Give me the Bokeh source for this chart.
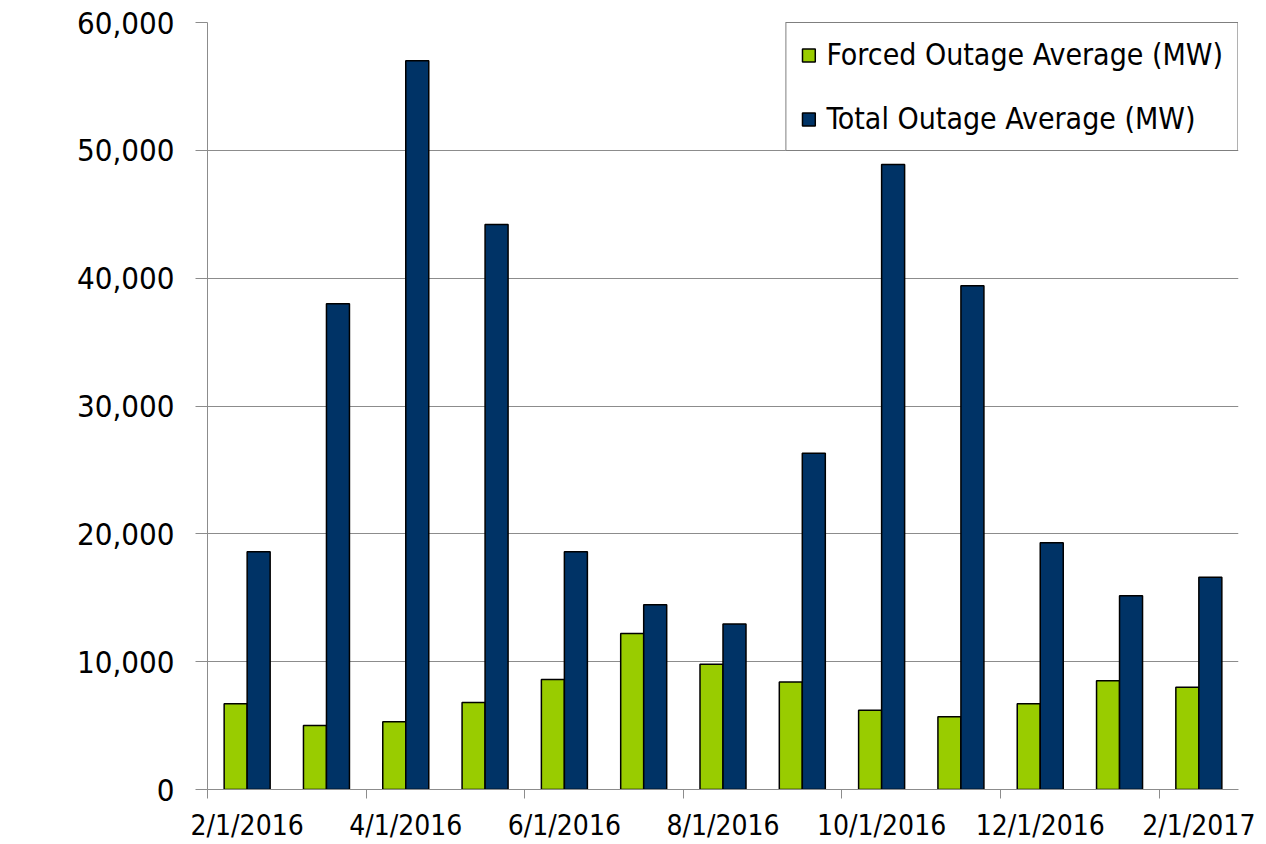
from bokeh.plotting import figure
from bokeh.models import ColumnDataSource, FixedTicker, Legend, LegendItem, NumeralTickFormatter, Range1d
from bokeh.transform import dodge
from bokeh.embed import file_html
from bokeh.resources import INLINE

months = ["2/1/2016", "3/1/2016", "4/1/2016", "5/1/2016", "6/1/2016", "7/1/2016",
          "8/1/2016", "9/1/2016", "10/1/2016", "11/1/2016", "12/1/2016", "1/1/2017", "2/1/2017"]
forced = [6700, 5000, 5300, 6800, 8600, 12200, 9800, 8400, 6200, 5700, 6700, 8500, 8000]
total = [18600, 38000, 57000, 44200, 18600, 14450, 12950, 26300, 48900, 39400, 19300, 15150, 16600]
y_ticks = [0, 10000, 20000, 30000, 40000, 50000, 60000]

FONT = "DejaVu Sans Condensed, Roboto, sans-serif"
GREEN = "#99cc00"
NAVY = "#003366"
GRID = "#8c8c8c"

n = len(months)
centers = [i + 0.5 for i in range(n)]
src = ColumnDataSource(dict(x=centers, forced=forced, total=total, month=months))

p = figure(width=1260, height=844, output_backend="svg", toolbar_location=None,
           x_range=Range1d(0, n), y_range=Range1d(0, 60000),
           min_border_left=207, min_border_right=22, min_border_top=22, min_border_bottom=54)

bw = 0.29
r1 = p.vbar(x=dodge("x", -bw / 2), top="forced", width=bw, source=src,
            fill_color=GREEN, line_color="black", line_width=1.5)
r2 = p.vbar(x=dodge("x", bw / 2), top="total", width=bw, source=src,
            fill_color=NAVY, line_color="black", line_width=1.5)

# x axis: labels at every other month centre, tick marks at category boundaries
lab_pos = [centers[i] for i in range(0, n, 2)]
p.xaxis.ticker = FixedTicker(ticks=lab_pos, minor_ticks=[float(i) for i in range(0, n, 2)])
p.xaxis.major_label_overrides = {centers[i]: months[i] for i in range(0, n, 2)}
p.xaxis.major_tick_out = 0
p.xaxis.major_tick_in = 0
p.xaxis.minor_tick_out = 9
p.xaxis.minor_tick_in = 0
p.xaxis.minor_tick_line_color = GRID
p.xaxis.axis_line_color = GRID
p.xaxis.major_label_text_font = FONT
p.xaxis.major_label_text_font_size = "28px"
p.xaxis.major_label_text_color = "black"
p.xaxis.major_label_standoff = 10

p.yaxis.ticker = FixedTicker(ticks=y_ticks, minor_ticks=[])
p.yaxis.formatter = NumeralTickFormatter(format="0,0")
p.yaxis.major_tick_out = 12
p.yaxis.major_tick_in = 0
p.yaxis.major_tick_line_color = GRID
p.yaxis.axis_line_color = GRID
p.yaxis.major_label_text_font = FONT
p.yaxis.major_label_text_font_size = "31px"
p.yaxis.major_label_text_color = "black"
p.yaxis.major_label_standoff = 21

p.xgrid.grid_line_color = None
p.ygrid.ticker = FixedTicker(ticks=y_ticks)
p.ygrid.grid_line_color = GRID
p.ygrid.grid_line_width = 1
p.outline_line_color = None

legend = Legend(items=[LegendItem(label="Forced Outage Average (MW)", renderers=[r1]),
                       LegendItem(label="Total Outage Average (MW)", renderers=[r2])],
                location="top_right", margin=0, padding=14, spacing=29,
                glyph_width=16, glyph_height=16, label_standoff=10, label_height=30,
                label_text_font=FONT, label_text_font_size="30px", label_text_color="black",
                border_line_color="black", border_line_width=1.5,
                background_fill_color="white", background_fill_alpha=1.0)
p.add_layout(legend)

open("out.html", "w").write(file_html(p, INLINE))
